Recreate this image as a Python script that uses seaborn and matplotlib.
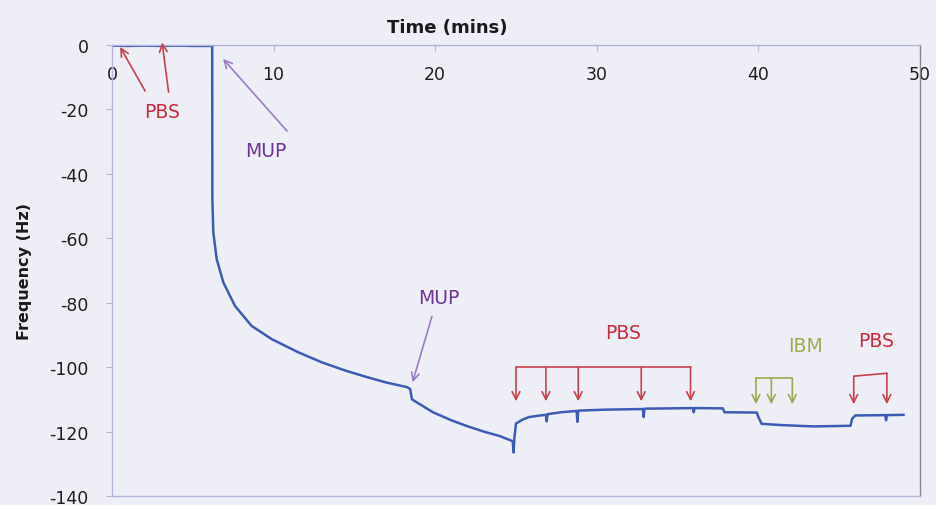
import matplotlib
matplotlib.use("Agg")
import matplotlib.pyplot as plt
import seaborn as sns
import pandas as pd

# ---- data ----
time_min = [0.0, 1.0, 2.0, 3.0, 4.0, 5.0, 6.2, 6.21, 6.27, 6.48, 6.89, 7.61, 8.64, 9.88,
            11.53, 12.98, 14.4, 15.78, 17.0, 18.25, 18.45, 18.56, 19.86, 21.0,
            21.97, 23.0, 24.0, 24.8, 24.85, 24.9, 25.0, 25.4, 25.8, 26.5, 26.85, 26.9,
            26.95, 27.8, 28.75, 28.8, 28.85, 30.5, 32.85, 32.9, 32.95, 34.5, 35.95, 36.0,
            36.05, 37.8, 37.9, 39.9, 40.0, 40.2, 41.5, 43.4, 45.7, 45.8, 46.0, 47.85,
            47.9, 47.95, 49.0]
frequency_hz = [-0.2, -0.3, -0.2, -0.3, -0.2, -0.3, -0.3, -47.8, -58.2, -66.5, -73.7, -81.0,
                -87.2, -91.3, -95.4, -98.5, -101.0, -103.1, -104.8, -106.2, -106.8,
                -110.0, -114.0, -116.5, -118.3, -120.0, -121.4, -123.0, -126.5, -122.0,
                -117.5, -116.3, -115.5, -115.0, -114.8, -116.8, -114.6, -114.0, -113.6,
                -117.0, -113.5, -113.2, -113.0, -115.5, -112.9, -112.8, -112.7, -114.0,
                -112.7, -112.8, -114.0, -114.1, -115.5, -117.6, -118.0, -118.4, -118.2,
                -116.0, -115.0, -114.9, -116.5, -114.9, -114.8]
x_ticks = [0, 10, 20, 30, 40, 50]
y_ticks = [-140, -120, -100, -80, -60, -40, -20, 0]

df = pd.DataFrame({"Time (mins)": time_min, "Frequency (Hz)": frequency_hz})

sns.set_style("white")
plt.rcParams["font.family"] = ["DejaVu Sans"]

BG = "#eeeef6"
fig = plt.figure(figsize=(9.36, 5.06), dpi=100, facecolor=BG)
ax = fig.add_axes([112/936, 1-497/506, (920-112)/936, (497-46)/506])
ax.set_facecolor(BG)

sns.lineplot(data=df, x="Time (mins)", y="Frequency (Hz)", sort=False, estimator=None,
             color="#3c5cb4", lw=1.8, ax=ax)

ax.set_xlim(0, 50)
ax.set_ylim(-140, 0)
ax.set_xticks(x_ticks)
ax.set_yticks(y_ticks)
ax.set_xticklabels([str(v) for v in x_ticks])
ax.set_yticklabels([str(v) for v in y_ticks])

for side in ["left", "top", "bottom"]:
    ax.spines[side].set_color("#b4b4d8")
    ax.spines[side].set_linewidth(1.0)
ax.spines["right"].set_color("#85858f")
ax.spines["right"].set_linewidth(1.0)

ax.xaxis.set_ticks_position("top")
ax.tick_params(axis="x", top=True, bottom=False, labeltop=True, labelbottom=False,
               direction="in", length=4, color="#b4b4d8", pad=-27,
               labelsize=12.5, labelcolor="#1e1e1e")
ax.tick_params(axis="y", left=True, direction="out", length=4, color="#b4b4d8",
               pad=13, labelsize=12.5, labelcolor="#1e1e1e")

ax.xaxis.set_label_position("top")
ax.set_xlabel("Time (mins)", fontsize=13, fontweight="bold", color="#1a1a1a")
ax.xaxis.set_label_coords((447-112)/808, (497-33)/451)
ax.set_ylabel("Frequency (Hz)", fontsize=11.5, fontweight="bold", color="#1a1a1a",
              labelpad=12)

RED_T = "#cc2a3c"
RED_A = "#c8424e"
PUR_T = "#6e3596"
PUR_A = "#9a7cc4"
GRN = "#9aaa4e"
FS = 13.5

def arrow(tail, head, color, lw=1.2):
    ax.annotate("", xy=head, xytext=tail, annotation_clip=False,
                arrowprops=dict(arrowstyle="->", color=color, lw=lw,
                                shrinkA=0, shrinkB=0, mutation_scale=14))

# PBS at start
ax.text(3.1, -20.5, "PBS", color=RED_T, fontsize=FS, ha="center", va="center")
arrow((2.05, -14.3), (0.5, -0.6), RED_A)
arrow((3.5, -14.6), (3.1, 0.8), RED_A)

# MUP 1
ax.text(9.5, -32.9, "MUP", color=PUR_T, fontsize=FS, ha="center", va="center")
arrow((10.83, -26.7), (6.87, -4.3), PUR_A)

# MUP 2
ax.text(20.2, -78.3, "MUP", color=PUR_T, fontsize=FS, ha="center", va="center")
arrow((19.8, -84.2), (18.6, -104.7), PUR_A)

# PBS bracket
ax.text(31.6, -89.1, "PBS", color=RED_T, fontsize=FS, ha="center", va="center")
ax.plot([25.0, 35.8], [-100, -100], color=RED_A, lw=1.2)
for xb in [25.0, 26.85, 28.85, 32.75, 35.8]:
    arrow((xb, -100), (xb, -110.6), RED_A)

# IBM bracket
ax.text(42.9, -93.2, "IBM", color=GRN, fontsize=FS, ha="center", va="center")
ax.plot([39.85, 42.1], [-103.4, -103.4], color=GRN, lw=1.2)
for xb in [39.85, 40.8, 42.1]:
    arrow((xb, -103.4), (xb, -111.5), GRN)

# PBS bracket 2
ax.text(47.3, -91.6, "PBS", color=RED_T, fontsize=FS, ha="center", va="center")
ax.plot([45.9, 47.95], [-102.8, -101.9], color=RED_A, lw=1.2)
arrow((45.9, -102.8), (45.9, -111.5), RED_A)
arrow((47.95, -101.9), (47.95, -111.5), RED_A)

fig.savefig("out.png", dpi=100, facecolor=BG)
